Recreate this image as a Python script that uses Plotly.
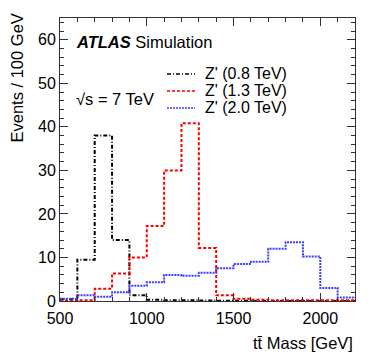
import plotly.graph_objects as go

# bin edges (GeV) and contents per 100 GeV
edges = list(range(500, 2300, 100))
zp08 = [0.4, 9.5, 38.0, 14.0, 1.3, 0.3, 0.2, 0.15, 0.1, 0.05, 0.05, 0.0, 0.0, 0.0, 0.0, 0.0, 0.0]
zp13 = [0.1, 0.2, 2.8, 6.3, 10.0, 17.2, 30.0, 40.8, 12.2, 1.3, 0.5, 0.3, 0.2, 0.2, 0.2, 0.2, 0.2]
zp20 = [0.5, 1.3, 1.0, 2.0, 3.5, 4.3, 6.0, 5.8, 6.5, 7.5, 8.5, 9.0, 12.0, 13.5, 10.2, 3.0, 0.8]

series = [
    ("Z' (0.8 TeV)", zp08, "black", "4px,2px,1px,2px"),
    ("Z' (1.3 TeV)", zp13, "red", "3px,2px"),
    ("Z' (2.0 TeV)", zp20, "#3c3cff", "2px,1px"),
]

FONT = "Liberation Sans, Arial, Helvetica, sans-serif"
FRAME = "#333333"

# page body has an 8px margin, so the figure is shrunk to fit the window
W, H = 366, 359 - 8
L, R, T, B = 52, 19, 10, 58
PW, PH = W - L - R, H - T - B


# helpers: window pixels -> paper coords of the plot area
def px(x):
    return (x - 8 - L) / PW


def py(y):
    return (H - B + 8 - y) / PH


fig = go.Figure()
for name, vals, col, dash in series:
    fig.add_trace(go.Scatter(
        x=edges, y=vals + [vals[-1]],
        mode="lines", line_shape="hv",
        line=dict(color=col, width=2, dash=dash),
        name=name, showlegend=False,
    ))

fig.update_layout(
    width=W, height=H,
    margin=dict(l=L, r=R, t=T, b=B),
    paper_bgcolor="white", plot_bgcolor="white",
    font=dict(family=FONT, size=16, color="black"),
)

fig.update_xaxes(
    range=[500, 2200], showgrid=False, zeroline=False,
    showline=True, linecolor=FRAME, linewidth=1, mirror="ticks",
    ticks="inside", ticklen=8, tickcolor=FRAME, dtick=500, tick0=500,
    tickfont=dict(size=16), ticklabelstandoff=3,
    minor=dict(ticks="inside", ticklen=4, tickcolor=FRAME, dtick=100, showgrid=False),
)
fig.update_yaxes(
    range=[0, 65], showgrid=False, zeroline=False,
    showline=True, linecolor=FRAME, linewidth=1, mirror="ticks",
    ticks="inside", ticklen=8, tickcolor=FRAME, dtick=10,
    tickfont=dict(size=16),
    minor=dict(ticks="inside", ticklen=4, tickcolor=FRAME, dtick=2, showgrid=False),
)

# legend drawn by hand (ROOT-style compact rows)
leg_y_line = [74, 91, 108]
leg_y_text = [73.5, 90.5, 107.5]
for (name, vals, col, dash), yl, yt in zip(series, leg_y_line, leg_y_text):
    fig.add_shape(type="line", xref="paper", yref="paper",
                  x0=px(167), x1=px(195), y0=py(yl), y1=py(yl),
                  line=dict(color=col, width=1.5, dash=dash))
    fig.add_annotation(x=px(203), y=py(yt), xref="paper", yref="paper",
                       text=name, showarrow=False, xanchor="left",
                       yanchor="middle", font=dict(size=16))

fig.add_annotation(x=1.0, y=py(343), xref="paper", yref="paper",
                   text="tt\u0304 Mass [GeV]", showarrow=False,
                   xanchor="right", yanchor="middle", font=dict(size=16.5))
fig.add_annotation(x=px(16), y=py(12), xref="paper", yref="paper",
                   text="Events / 100 GeV", showarrow=False, textangle=-90,
                   xanchor="center", yanchor="top", font=dict(size=16.5))
fig.add_annotation(x=px(74), y=py(41.5), xref="paper", yref="paper",
                   text="<b><i>ATLAS</i></b> Simulation", showarrow=False,
                   xanchor="left", yanchor="middle", font=dict(size=16.5))
fig.add_annotation(x=px(74), y=py(99), xref="paper", yref="paper",
                   text="\u221as = 7 TeV", showarrow=False,
                   xanchor="left", yanchor="middle", font=dict(size=16.5))

fig.write_html("out.html")
